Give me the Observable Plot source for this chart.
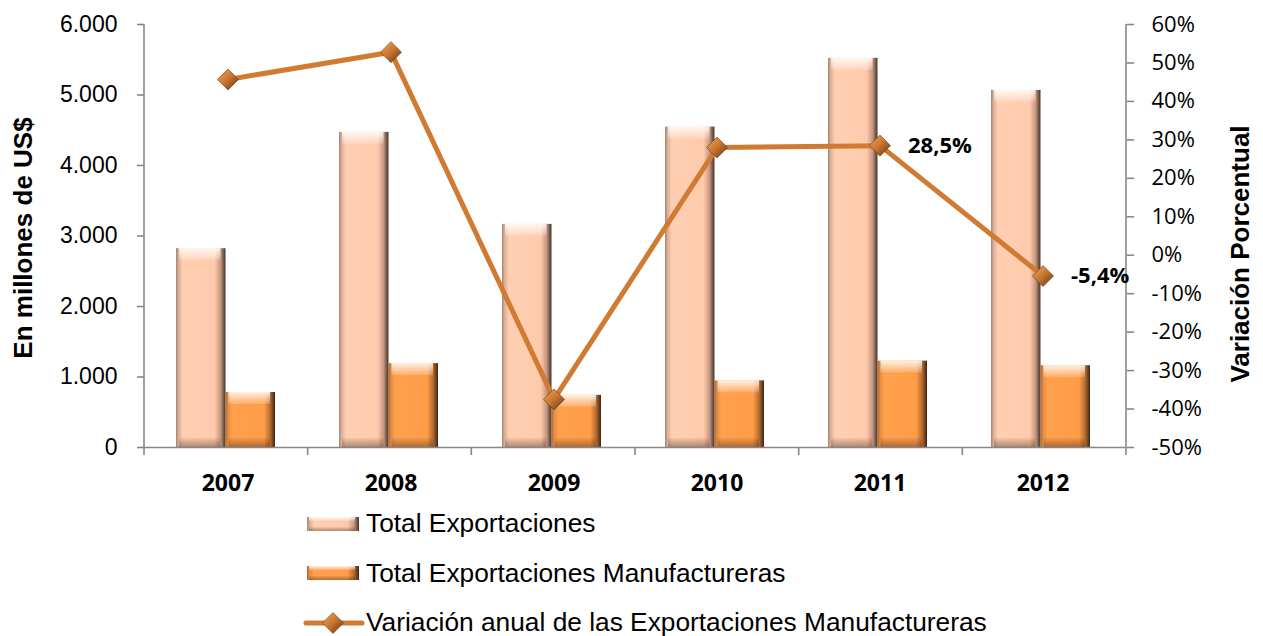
<!DOCTYPE html>
<html>
<head>
<meta charset="utf-8">
<script src="https://cdn.jsdelivr.net/npm/d3@7"></script>
<script src="https://cdn.jsdelivr.net/npm/@observablehq/plot@0.6"></script>
<style>
  html, body { margin: 0; padding: 0; background: #fff; }
  #wrap { width: 1263px; height: 636px; position: relative; overflow: hidden; }
  #legend { position: absolute; left: 300px; top: 499px; font-family: 'Liberation Sans', Arial, sans-serif; font-size: 26.3px; color: #000; }
  .row { height: 49.5px; display: flex; align-items: center; }
  .row svg { width: 66px; height: 26px; flex: none; }
</style>
</head>
<body>
<svg width="0" height="0" style="position:absolute">
  <defs>
    <linearGradient id="gTot" x1="0" x2="1" y1="0" y2="0">
      <stop offset="0" stop-color="#a08272"/>
      <stop offset="0.05" stop-color="#d9ae96"/>
      <stop offset="0.14" stop-color="#ffcfb2"/>
      <stop offset="0.78" stop-color="#ffcaac"/>
      <stop offset="0.9" stop-color="#c69880"/>
      <stop offset="1" stop-color="#433229"/>
    </linearGradient>
    <linearGradient id="gMan" x1="0" x2="1" y1="0" y2="0">
      <stop offset="0" stop-color="#a86430"/>
      <stop offset="0.05" stop-color="#e58c42"/>
      <stop offset="0.14" stop-color="#ffa04d"/>
      <stop offset="0.78" stop-color="#ff9c48"/>
      <stop offset="0.9" stop-color="#b86c30"/>
      <stop offset="1" stop-color="#3a2514"/>
    </linearGradient>
    <linearGradient id="hiTop" x1="0" x2="0" y1="0" y2="1">
      <stop offset="0" stop-color="#fff" stop-opacity="0.85"/>
      <stop offset="1" stop-color="#fff" stop-opacity="0.15"/>
    </linearGradient>
    <linearGradient id="shBot" x1="0" x2="0" y1="0" y2="1">
      <stop offset="0" stop-color="#3a2010" stop-opacity="0.05"/>
      <stop offset="1" stop-color="#3a2010" stop-opacity="0.4"/>
    </linearGradient>
    <linearGradient id="gDia" x1="0" x2="1" y1="0" y2="1">
      <stop offset="0" stop-color="#f4a860"/>
      <stop offset="0.5" stop-color="#c8742f"/>
      <stop offset="1" stop-color="#5c3414"/>
    </linearGradient>
  </defs>
</svg>
<div id="wrap">
  <div id="chart"></div>
  <div id="legend"></div>
</div>
<script>
// ---- data ----
const years = ["2007", "2008", "2009", "2010", "2011", "2012"];
const totalExportaciones = [2820, 4470, 3165, 4545, 5520, 5065];
const totalManufactureras = [780, 1190, 740, 945, 1225, 1160];
const variacionAnual = [45.7, 52.8, -37.5, 28.0, 28.5, -5.4];
const labeledYears = ["2011", "2012"];
const leftTicks = [0, 1000, 2000, 3000, 4000, 5000, 6000];
const rightTicks = [-50, -40, -30, -20, -10, 0, 10, 20, 30, 40, 50, 60];
const seriesNames = ["Total Exportaciones", "Total Exportaciones Manufactureras", "Variación anual de las Exportaciones Manufactureras"];
const leftTitle = "En millones de US$";
const rightTitle = "Variación Porcentual";

// ---- layout ----
const W = 1263, H = 490;
const mL = 144, mR = 137, mT = 24, mB = 43;
const padInner = 0.395;
const step = (W - mL - mR) / years.length;
const bw = step * (1 - padInner);

// dual axis mapping: percent -> left scale units
const yMax = leftTicks[leftTicks.length - 1];
const pMin = rightTicks[0], pMax = rightTicks[rightTicks.length - 1];
const toY = p => (p - pMin) / (pMax - pMin) * yMax;
const fromY = v => v / yMax * (pMax - pMin) + pMin;

const locale = d3.formatLocale({decimal: ",", thousands: ".", grouping: [3], currency: ["$", ""], minus: "-"});
const fmtThousands = locale.format(",");
const fmtPct = locale.format(".1f");

const rows = years.map((year, i) => ({
  year,
  total: totalExportaciones[i],
  manuf: totalManufactureras[i],
  pct: variacionAnual[i],
  label: labeledYears.includes(year) ? fmtPct(variacionAnual[i]) + "%" : null
}));

const axisLines = (index, scales, values, dims) => {
  const {width, height, marginLeft, marginRight, marginTop, marginBottom} = dims;
  const n = years.length, st = (width - marginLeft - marginRight) / n, y0 = height - marginBottom;
  const g = d3.create("svg:g").attr("stroke", "#878787").attr("stroke-width", 1.6);
  for (let i = 0; i <= n; i++) {
    const xx = marginLeft + i * st;
    g.append("line").attr("x1", xx).attr("x2", xx)
      .attr("y1", (i === 0 || i === n) ? marginTop : y0).attr("y2", y0 + 8);
  }
  return g.node();
};

const chart = Plot.plot({
  width: W, height: H,
  marginLeft: mL, marginRight: mR, marginTop: mT, marginBottom: mB,
  style: {fontFamily: "'Liberation Sans', Arial, sans-serif", fontSize: "23px", background: "transparent", overflow: "visible"},
  x: {domain: years, type: "band", paddingInner: padInner, paddingOuter: padInner / 2},
  y: {domain: [0, yMax]},
  marks: [
    // bars: Total Exportaciones (left half of group)
    Plot.barY(rows, {x: "year", y: "total", fill: "url(#gTot)", insetRight: bw / 2, dx: -2}),
    Plot.barY(rows, {x: "year", y1: "total", y2: "total", insetBottom: -12, insetRight: bw / 2 + 5, insetLeft: 3, dx: -2, fill: "url(#hiTop)"}),
    Plot.barY(rows, {x: "year", y1: 0, y2: 0, insetTop: -9, insetRight: bw / 2 + 5, insetLeft: 3, dx: -2, fill: "url(#shBot)"}),
    // bars: Manufactureras (right half)
    Plot.barY(rows, {x: "year", y: "manuf", fill: "url(#gMan)", insetLeft: bw / 2, dx: -2}),
    Plot.barY(rows, {x: "year", y1: "manuf", y2: "manuf", insetBottom: -12, insetLeft: bw / 2 + 3, insetRight: 5, dx: -2, fill: "url(#hiTop)"}),
    Plot.barY(rows, {x: "year", y1: 0, y2: 0, insetTop: -9, insetLeft: bw / 2 + 3, insetRight: 5, dx: -2, fill: "url(#shBot)"}),
    // axes frame
    Plot.ruleY([0], {stroke: "#878787", strokeWidth: 1.6}),
    axisLines,
    Plot.axisY({ticks: leftTicks, tickSize: 7, tickPadding: 20, tickFormat: fmtThousands, stroke: "#878787", strokeWidth: 1.6, fill: "#000", fontSize: 23, label: null}),
    Plot.axisY({anchor: "right", ticks: rightTicks.map(toY), tickSize: 7, tickPadding: 18, tickFormat: v => Math.round(fromY(v)) + "%", stroke: "#878787", strokeWidth: 1.6, fill: "#000", fontSize: 22, fontFamily: "'Open Sans', sans-serif", label: null}),
    Plot.axisX({tickSize: 0, tickPadding: 27, fontSize: 23, fontWeight: "bold", fontFamily: "'Open Sans', sans-serif", fill: "#000", label: null}),
    // line series
    Plot.line(rows, {x: "year", y: d => toY(d.pct), stroke: "#d07a32", strokeWidth: 5}),
    Plot.dot(rows, {x: "year", y: d => toY(d.pct), symbol: "diamond2", r: 9.5, fill: "url(#gDia)", stroke: "#6b3d18", strokeWidth: 0.6}),
    Plot.text(rows.filter(d => d.label), {x: "year", y: d => toY(d.pct), text: "label", dx: 28, textAnchor: "start", fontSize: 22, fontWeight: "bold", fontFamily: "'Open Sans', sans-serif", fill: "#000"}),
    // axis titles
    Plot.text([leftTitle], {frameAnchor: "left", textAnchor: "middle", lineAnchor: "middle", rotate: -90, dx: -121, dy: 2, fontSize: 26, fontWeight: "bold", fill: "#000"}),
    Plot.text([rightTitle], {frameAnchor: "right", textAnchor: "middle", lineAnchor: "middle", rotate: -90, dx: 114, dy: 18, fontSize: 26, fontWeight: "bold", fill: "#000"})
  ]
});
document.getElementById("chart").appendChild(chart);

// ---- legend ----
const legend = d3.select("#legend");
const swatches = ["url(#gTot)", "url(#gMan)"];
seriesNames.forEach((name, i) => {
  const row = legend.append("div").attr("class", "row");
  const s = row.append("svg").attr("viewBox", "0 0 66 26");
  if (i < 2) {
    s.append("rect").attr("x", 7).attr("y", 6).attr("width", 52).attr("height", 14).attr("fill", swatches[i]);
    s.append("rect").attr("x", 9).attr("y", 6).attr("width", 46).attr("height", 4).attr("fill", "url(#hiTop)");
    s.append("rect").attr("x", 9).attr("y", 16).attr("width", 46).attr("height", 4).attr("fill", "url(#shBot)");
  } else {
    s.append("line").attr("x1", 6).attr("x2", 62).attr("y1", 13).attr("y2", 13).attr("stroke", "#d07a32").attr("stroke-width", 5).attr("stroke-linecap", "round");
    s.append("path").attr("d", d3.symbol(d3.symbolDiamond2, 280)()).attr("transform", "translate(33,13)").attr("fill", "url(#gDia)").attr("stroke", "#6b3d18").attr("stroke-width", 0.6);
  }
  row.append("span").text(name);
});
</script>
</body>
</html>
